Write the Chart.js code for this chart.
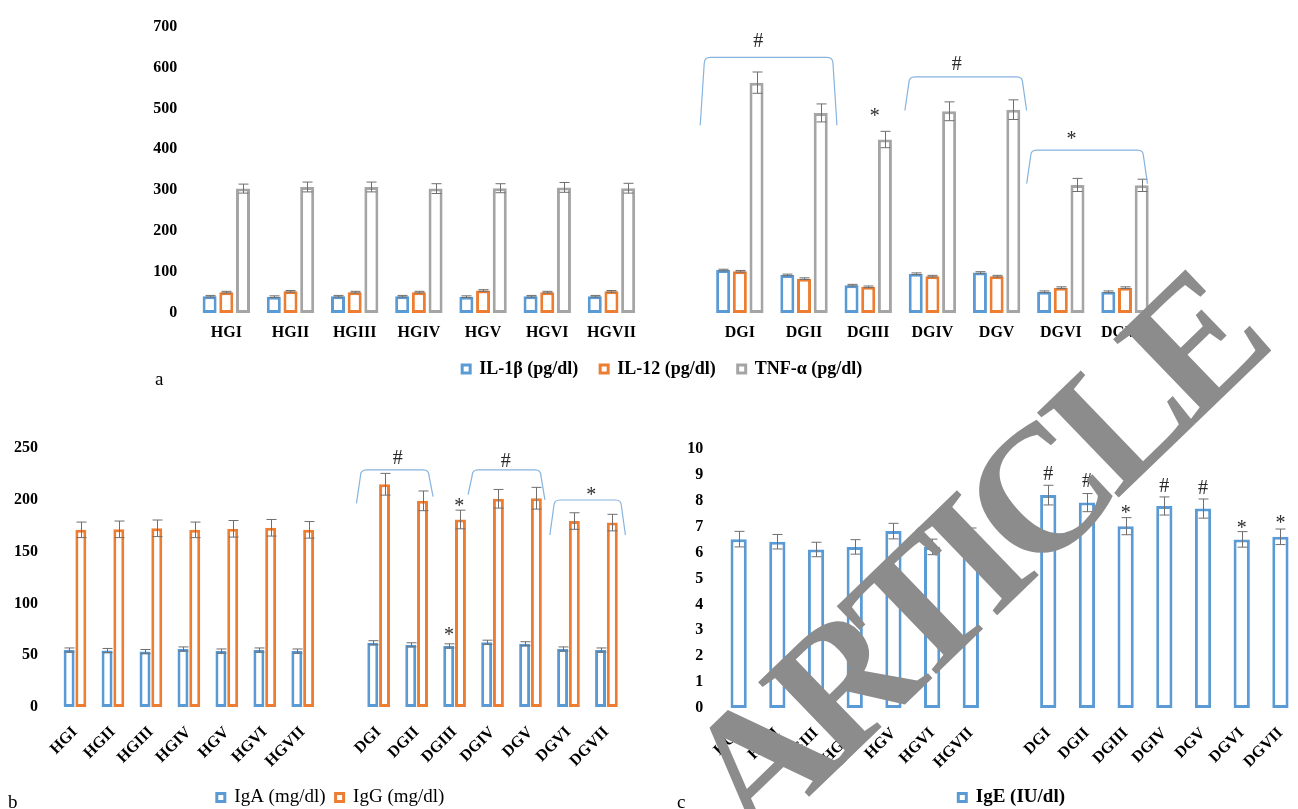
<!DOCTYPE html>
<html>
<head>
<meta charset="utf-8">
<script src="https://cdn.jsdelivr.net/npm/chart.js@4.4.1/dist/chart.umd.min.js"></script>
<style>
  html, body { margin: 0; padding: 0; background: #fff; overflow: hidden; width: 1298px; height: 809px; }
  #page { position: relative; width: 1298px; height: 809px; overflow: hidden; background: #fff; }
  #page canvas { position: absolute; }
  .tag { position: absolute; font-family: "Liberation Serif", "Times New Roman", serif; font-size: 19px; line-height: 1; color: #000; }
  #stamp {
    position: absolute; left: 970px; top: 558px;
    font-family: "Liberation Serif", "Times New Roman", serif; font-weight: bold;
    font-size: 180px; letter-spacing: -14px; line-height: 1; color: #8c8c8c; white-space: nowrap;
    transform: translate(-50%, -50%) rotate(-44deg);
  }
</style>
</head>
<body>
<div id="page">
  <canvas id="chartA" width="1159" height="388" style="left:0;top:0"></canvas>
  <canvas id="chartB" width="636" height="397" style="left:0;top:420px"></canvas>
  <canvas id="chartC" width="650" height="397" style="left:660px;top:420px"></canvas>
  <div class="tag" style="left:155px;top:369px">a</div>
  <div class="tag" style="left:8px;top:792px">b</div>
  <div class="tag" style="left:677px;top:792px">c</div>
  <div id="stamp">ARTICLE</div>
</div>
<script>
// Groups (healthy HG and diseased DG), with an empty slot between the two sets
const groups = ['HGI', 'HGII', 'HGIII', 'HGIV', 'HGV', 'HGVI', 'HGVII', '',
                'DGI', 'DGII', 'DGIII', 'DGIV', 'DGV', 'DGVI', 'DGVII'];

// Cytokines (pg/dl): means and SD
const il1b    = [41, 40, 41, 41, 40, 41, 41, null, 105, 93, 68, 96, 99, 52, 52];
const il1bSd  = [2, 2, 2, 2, 2, 2, 2, null, 2, 2, 2, 2, 2, 2, 2];
const il12    = [51, 53, 51, 51, 55, 51, 53, null, 102, 84, 64, 90, 90, 62, 62];
const il12Sd  = [2, 2, 2, 2, 2, 2, 2, null, 2, 2, 2, 2, 2, 2, 2];
const tnfa    = [304, 308, 308, 304, 305, 307, 305, null, 563, 489, 424, 493, 497, 313, 312];
const tnfaSd  = [11, 12, 12, 12, 11, 12, 12, null, 26, 22, 20, 23, 24, 16, 15];

// Immunoglobulins A and G (mg/dl)
const iga     = [55, 54.5, 53.5, 56, 54, 55, 54, null, 62, 60, 59, 62.5, 61, 56, 55];
const igaSd   = [2, 2, 2, 2, 2, 2, 2, null, 2, 2, 2, 2, 2, 2, 2];
const igg     = [171, 171.5, 172.5, 171, 172, 173, 171, null, 215, 199, 181, 201, 201.5, 179.5, 178];
const iggSd   = [7.5, 8, 8, 7.5, 8, 8, 8, null, 10.5, 9.5, 9, 9, 10.5, 8, 8];

// Immunoglobulin E (IU/dl)
const ige     = [6.52, 6.42, 6.12, 6.22, 6.83, 6.22, 6.65, null, 8.22, 7.93, 7.02, 7.8, 7.7, 6.51, 6.61];
const igeSd   = [0.3, 0.28, 0.28, 0.28, 0.3, 0.3, 0.3, null, 0.38, 0.35, 0.33, 0.35, 0.37, 0.3, 0.3];

const SERIF = "'Liberation Serif', 'Times New Roman', serif";
const BLUE = '#5B9BD5', ORANGE = '#ED7D31', GREY = '#A5A5A5';

Chart.defaults.font.family = SERIF;
Chart.defaults.color = '#000';

// Let the value-axis labels run into the left padding instead of being clipped
const looseTicks = {
  id: 'looseTicks',
  afterLayout(chart) { chart.scales.y.left = 0; }
};

// Vertical +/- SD whiskers with caps, read from dataset.errors
const errorBars = {
  id: 'errorBars',
  afterDatasetsDraw(chart, args, opts) {
    const ctx = chart.ctx, ys = chart.scales.y;
    ctx.save();
    ctx.strokeStyle = opts.color;
    ctx.lineWidth = opts.width;
    chart.data.datasets.forEach((ds, di) => {
      if (!ds.errors) return;
      chart.getDatasetMeta(di).data.forEach((bar, i) => {
        const v = ds.data[i], e = ds.errors[i];
        if (v == null || e == null) return;
        const x = Math.round(bar.x) + 0.5;
        const yt = ys.getPixelForValue(v + e), yb = ys.getPixelForValue(v - e);
        const h = opts.cap / 2;
        ctx.beginPath();
        ctx.moveTo(x, yt); ctx.lineTo(x, yb);
        ctx.moveTo(x - h, yt); ctx.lineTo(x + h, yt);
        ctx.moveTo(x - h, yb); ctx.lineTo(x + h, yb);
        ctx.stroke();
      });
    });
    ctx.restore();
  }
};

// Significance brackets and marks (#, *) placed in category/value units
const significance = {
  id: 'significance',
  afterDatasetsDraw(chart, args, opts) {
    const ctx = chart.ctx, xs = chart.scales.x, ys = chart.scales.y;
    ctx.save();
    ctx.strokeStyle = opts.color;
    ctx.lineWidth = opts.lineWidth;
    const r = opts.radius, lean = opts.lean;
    (opts.spans || []).forEach(s => {
      const x1 = xs.getPixelForValue(s.from), x2 = xs.getPixelForValue(s.to);
      const yt = ys.getPixelForValue(s.top);
      const yl = ys.getPixelForValue(s.footL), yr = ys.getPixelForValue(s.footR);
      ctx.beginPath();
      ctx.moveTo(x1, yl);
      ctx.lineTo(x1 + lean, yt + r);
      ctx.quadraticCurveTo(x1 + lean, yt, x1 + lean + r, yt);
      ctx.lineTo(x2 - lean - r, yt);
      ctx.quadraticCurveTo(x2 - lean, yt, x2 - lean, yt + r);
      ctx.lineTo(x2, yr);
      ctx.stroke();
    });
    ctx.fillStyle = opts.markColor;
    ctx.font = opts.markSize + 'px ' + SERIF;
    ctx.textAlign = 'center';
    ctx.textBaseline = 'middle';
    (opts.marks || []).forEach(m => {
      const dy = m.text === '*' ? opts.markSize * 0.17 : 0;
      ctx.fillText(m.text, xs.getPixelForValue(m.x), ys.getPixelForValue(m.y) + dy);
    });
    ctx.restore();
  }
};

function bars(label, data, errors, color) {
  return {
    label, data, errors,
    backgroundColor: '#fff', borderColor: color, borderWidth: 3, borderSkipped: false
  };
}

function baseOptions(o) {
  return {
    responsive: false, animation: false, devicePixelRatio: 1, events: [],
    layout: { padding: o.padding },
    plugins: {
      tooltip: { enabled: false },
      legend: {
        position: 'bottom',
        labels: {
          boxWidth: 8, boxHeight: 8, padding: o.legendGap,
          font: { family: SERIF, size: o.legendSize, weight: o.legendWeight }, color: '#000'
        }
      },
      errorBars: { color: '#6f6f6f', width: 1, cap: 10 },
      significance: Object.assign({ color: '#86b3e0', lineWidth: 1.2, radius: 6, lean: 4, markColor: '#2a2a2a', markSize: 20 }, o.sig)
    },
    scales: {
      x: {
        grid: { display: false, drawTicks: false }, border: { display: false },
        ticks: {
          autoSkip: false, padding: o.xPad, minRotation: o.rot, maxRotation: o.rot,
          font: { family: SERIF, size: 16, weight: 'bold' }, color: '#000'
        },
        afterFit(s) { s.height = o.xHeight; }
      },
      y: {
        min: 0, max: o.yMax,
        grid: { display: false, drawTicks: false }, border: { display: false },
        ticks: { stepSize: o.yStep, padding: o.yPad, font: { family: SERIF, size: 16, weight: 'bold' }, color: '#000' },
        afterFit(s) { s.width = o.yWidth; }
      }
    }
  };
}

// a: cytokines
const optsA = baseOptions({
  padding: { left: 165.4, right: 0, top: 23, bottom: 0 },
  legendGap: 22, legendSize: 18, legendWeight: 'bold',
  xPad: 10, rot: 0, xHeight: 25, yMax: 700, yStep: 100, yPad: 17, yWidth: 28.8,
  sig: {
    spans: [
      { from: 7.383, to: 9.513, top: 625, footL: 459, footR: 459 },
      { from: 10.571, to: 12.468, top: 577, footL: 495, footR: 495 },
      { from: 12.468, to: 14.35, top: 398, footL: 316, footR: 316 }
    ],
    marks: [
      { text: '#', x: 8.285, y: 664 },
      { text: '#', x: 11.379, y: 606 },
      { text: '*', x: 10.10, y: 488 },
      { text: '*', x: 13.168, y: 432 }
    ]
  }
});
optsA.datasets = { bar: { categoryPercentage: 0.78, barPercentage: 0.84 } };
new Chart(document.getElementById('chartA'), {
  type: 'bar',
  data: {
    labels: groups,
    datasets: [
      bars('IL-1β (pg/dl)', il1b, il1bSd, BLUE),
      bars('IL-12 (pg/dl)', il12, il12Sd, ORANGE),
      bars('TNF-α (pg/dl)', tnfa, tnfaSd, GREY)
    ]
  },
  options: optsA,
  plugins: [looseTicks, errorBars, significance]
});

// b: IgA and IgG
const optsB = baseOptions({
  padding: { left: 25.2, right: 0, top: 28, bottom: 0 },
  legendGap: 10, legendSize: 19, legendWeight: 'normal',
  xPad: 16, rot: 45, xHeight: 71, yMax: 250, yStep: 50, yPad: 18, yWidth: 30.8,
  sig: {
    spans: [
      { from: 7.415, to: 9.433, top: 228.8, footL: 196.5, footR: 203 },
      { from: 10.356, to: 12.38, top: 228.8, footL: 205, footR: 200 },
      { from: 12.51, to: 14.5, top: 199.8, footL: 166, footR: 166 }
    ],
    marks: [
      { text: '#', x: 8.5, y: 240 },
      { text: '#', x: 11.35, y: 236.5 },
      { text: '*', x: 13.6, y: 206.8 },
      { text: '*', x: 10.12, y: 197 },
      { text: '*', x: 9.85, y: 72 }
    ]
  }
});
optsB.datasets = { bar: { categoryPercentage: 0.62, barPercentage: 0.93 } };
new Chart(document.getElementById('chartB'), {
  type: 'bar',
  data: {
    labels: groups,
    datasets: [
      bars('IgA (mg/dl)', iga, igaSd, BLUE),
      bars('IgG (mg/dl)', igg, iggSd, ORANGE)
    ]
  },
  options: optsB,
  plugins: [looseTicks, errorBars, significance]
});

// c: IgE
const optsC = baseOptions({
  padding: { left: 53.3, right: 0, top: 29, bottom: 0 },
  legendGap: 10, legendSize: 19, legendWeight: 'bold',
  xPad: 16, rot: 45, xHeight: 70, yMax: 10, yStep: 1, yPad: 16, yWidth: 6,
  sig: {
    spans: [],
    marks: [
      { text: '#', x: 8, y: 9.0 },
      { text: '#', x: 9, y: 8.74 },
      { text: '*', x: 10, y: 7.65 },
      { text: '#', x: 11, y: 8.53 },
      { text: '#', x: 12, y: 8.46 },
      { text: '*', x: 13, y: 7.07 },
      { text: '*', x: 14, y: 7.24 }
    ]
  }
});
optsC.datasets = { bar: { categoryPercentage: 0.42, barPercentage: 1 } };
new Chart(document.getElementById('chartC'), {
  type: 'bar',
  data: {
    labels: groups,
    datasets: [ bars('IgE (IU/dl)', ige, igeSd, BLUE) ]
  },
  options: optsC,
  plugins: [looseTicks, errorBars, significance]
});
</script>
</body>
</html>
